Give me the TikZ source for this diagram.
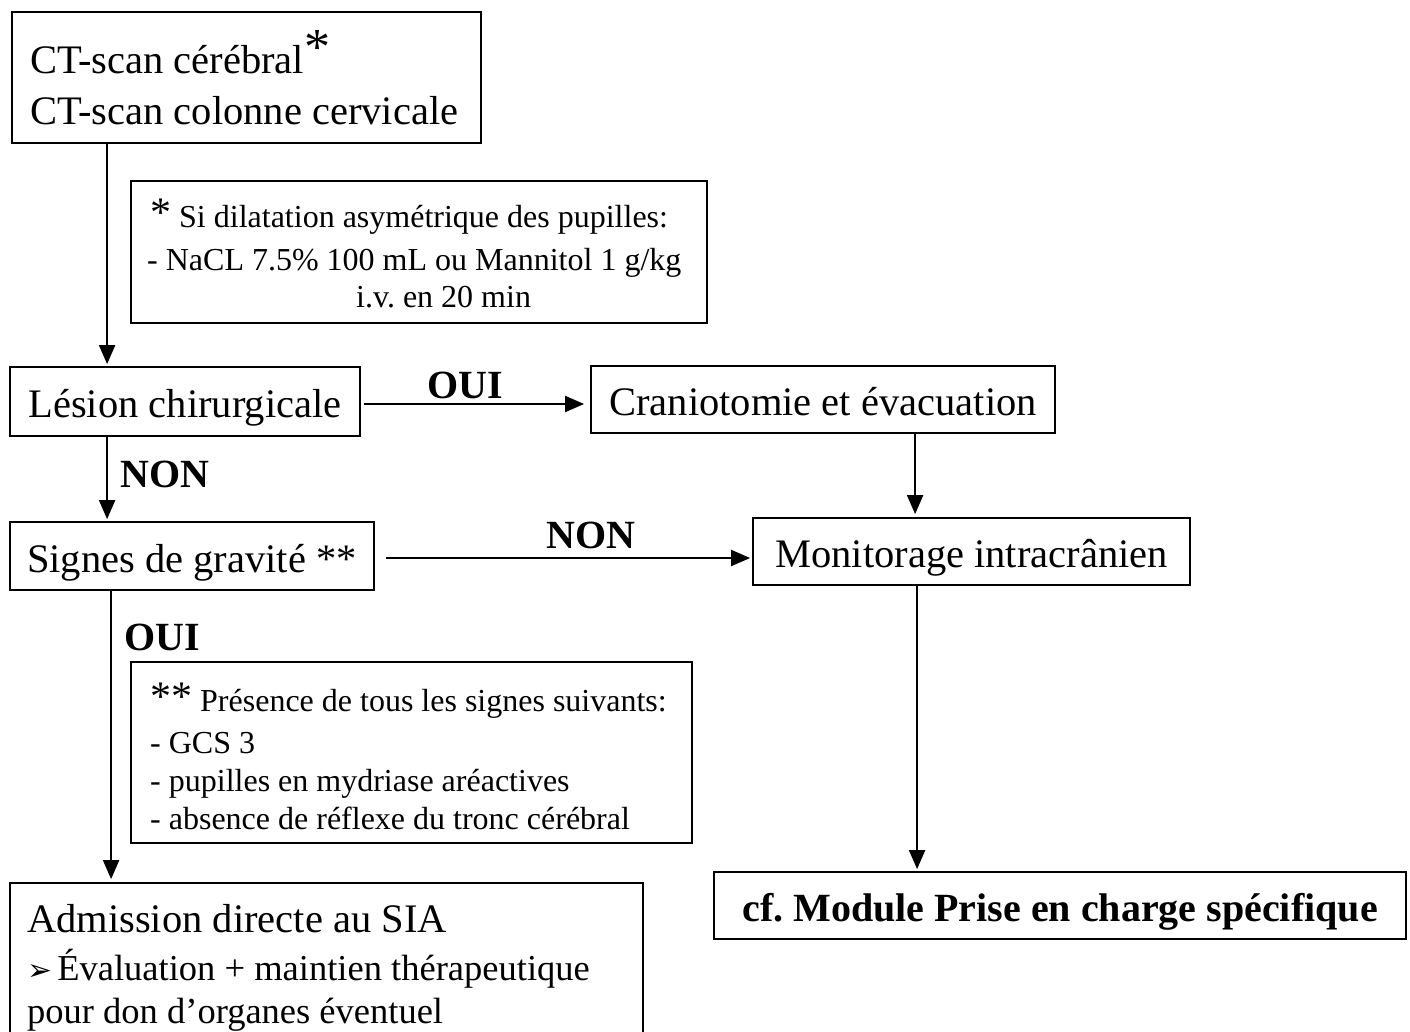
\documentclass[tikz,border=0pt]{standalone}
\usepackage{fontspec}
\setmainfont{Liberation Serif}
\newfontfamily\dejavu{DejaVu Sans}
\usetikzlibrary{arrows.meta,calc}
\frenchspacing
\newcommand{\bigast}{{\fontsize{42}{42}\selectfont *}}
\begin{document}
\begin{tikzpicture}[x=1pt,y=-1pt,
  box/.style={draw, line width=1.8pt, rectangle, inner sep=0pt},
  big/.style={font=\fontsize{40.5}{48}\selectfont},
  inbox/.style={text height=35pt, text depth=3pt},
  mid/.style={font=\fontsize{36.5}{44}\selectfont},
  small/.style={font=\fontsize{32}{38}\selectfont},
  lab/.style={font=\fontsize{40}{48}\selectfont\bfseries},
  arr/.style={line width=2pt, -{Triangle[length=19pt,width=16pt]}},
  txt/.style={anchor=base west, inner sep=0pt}]
\useasboundingbox (0,0) rectangle (1410,1032);
\clip (0,0) rectangle (1410,1032);
% boxes
\node[box, minimum width=469pt, minimum height=131pt] (ct) at (246.5,77.5) {};
\node[box, minimum width=576pt, minimum height=142pt] (note1) at (419,252) {};
\node[box, big, inbox, minimum width=350pt, minimum height=69pt] (lesion) at (185,401.5) {Lésion chirurgicale};
\node[box, big, inbox, minimum width=464pt, minimum height=67pt] (cranio) at (823,399.5) {Craniotomie et évacuation};
\node[box, big, inbox, minimum width=364pt, minimum height=68pt] (signes) at (192,556) {Signes de gravité **};
\node[box, big, inbox, minimum width=437pt, minimum height=67pt] (monit) at (971.5,551.5) {Monitorage intracrânien};
\node[box, minimum width=561pt, minimum height=181pt] (note2) at (411.5,752.5) {};
\node[box, minimum width=633pt, minimum height=170pt] (adm) at (326.5,968) {};
\node[box, lab, inbox, minimum width=692pt, minimum height=67pt] (cf) at (1060,905.5) {cf. Module Prise en charge spécifique};
% texts
\node[txt, big] (ct1) at (30,74) {CT-scan cérébral\raisebox{9pt}{\fontsize{52}{52}\selectfont *}};
\node[txt, big] (ct2) at (30,125) {CT-scan colonne cervicale};
\node[txt, small] (n11) at (150,228) {\raisebox{1pt}{\bigast} Si dilatation asymétrique des pupilles:};
\node[txt, small] (n12) at (147,270) {- NaCL 7.5\% 100 mL ou Mannitol 1 g/kg};
\node[txt, small] (n13) at (356,307) {i.v. en 20 min};
\node[txt, small] (n21) at (150,711) {\raisebox{1pt}{\bigast\bigast} Présence de tous les signes suivants:};
\node[txt, small] (n22) at (150,753) {- GCS 3};
\node[txt, small] (n23) at (150,791) {- pupilles en mydriase aréactives};
\node[txt, small] (n24) at (150,829) {- absence de réflexe du tronc cérébral};
\node[txt, big] (a1) at (27,932) {Admission directe au SIA};
\node[txt, mid] (a2) at (27,980) {{\dejavu\fontsize{30}{32}\selectfont ➢}\hspace{5pt}Évaluation + maintien thérapeutique};
\node[txt, mid] (a3) at (27,1023) {pour don d’organes éventuel};
% labels
\node[lab, anchor=base, inner sep=0pt] (oui1) at (465,398) {OUI};
\node[lab, txt] (non1) at (120,487) {NON};
\node[lab, txt] (non2) at (546,548) {NON};
\node[lab, txt] (oui2) at (124,650) {OUI};
% connectors
\draw[arr, shorten >=2pt] ($(ct.south west)+(96,0)$) -- ($(lesion.north west)+(98,0)$);
\draw[arr, shorten >=2pt] ($(lesion.south west)+(98,0)$) -- ($(signes.north west)+(98,0)$);
\draw[arr, shorten <=3pt, shorten >=6pt] ($(lesion.east)+(0,2.5)$) -- ($(lesion.east -| cranio.west)+(0,2.5)$);
\draw[arr, shorten <=11pt, shorten >=2pt] ($(signes.east)+(0,2)$) -- ($(signes.east -| monit.west)+(0,2)$);
\draw[arr, shorten >=3pt] ($(cranio.south west)+(325,0)$) -- ($(monit.north west)+(163,0)$);
\draw[arr, shorten >=3pt] ($(signes.south west)+(102,0)$) -- ($(adm.north west)+(102,0)$);
\draw[arr, shorten >=2pt] ($(monit.south west)+(165,0)$) -- ($(cf.north west)+(204,0)$);
\end{tikzpicture}
\end{document}
